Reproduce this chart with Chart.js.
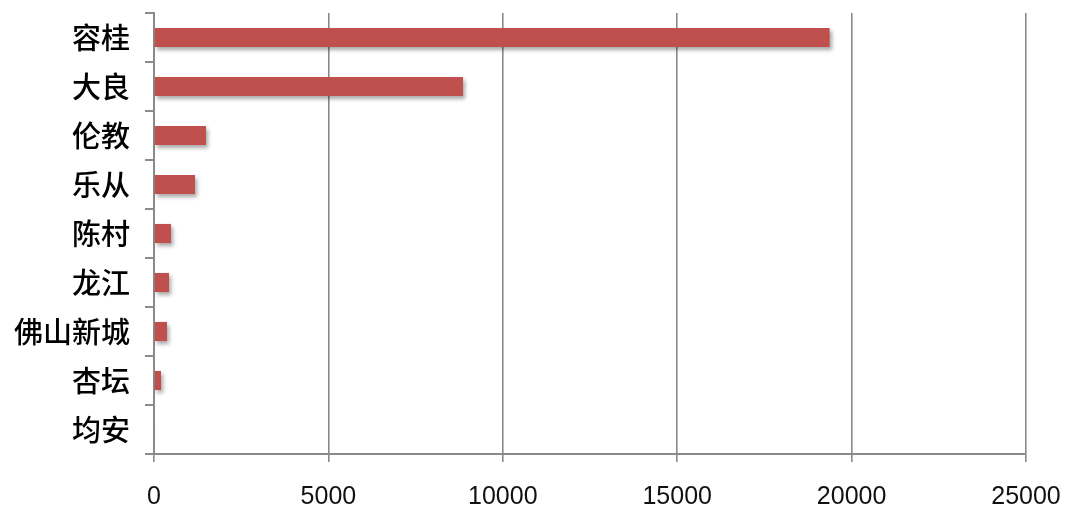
<!DOCTYPE html>
<html>
<head>
<meta charset="utf-8">
<script src="https://cdn.jsdelivr.net/npm/chart.js@4/dist/chart.umd.min.js"></script>
<style>
  html, body { margin: 0; padding: 0; background: #fff; }
  #wrap { width: 1065px; height: 508px; }
</style>
</head>
<body>
<div id="wrap"><canvas id="myChart" width="1065" height="508"></canvas></div>
<script>
const categories = ["容桂", "大良", "伦教", "乐从", "陈村", "龙江", "佛山新城", "杏坛", "均安"];
const values = [19370, 8860, 1490, 1175, 487, 430, 372, 200, 20];
const xTicks = [0, 5000, 10000, 15000, 20000, 25000];

// soft drop shadow under the bars, like the office chart
const barShadow = {
  id: 'barShadow',
  beforeDatasetsDraw(chart) {
    const c = chart.ctx;
    c.save();
    c.shadowColor = 'rgba(0,0,0,0.35)';
    c.shadowBlur = 4;
    c.shadowOffsetX = 2;
    c.shadowOffsetY = 3;
  },
  afterDatasetsDraw(chart) {
    chart.ctx.restore();
  }
};

var ctx = document.getElementById('myChart').getContext('2d');
var myChart = new Chart(ctx, {
  type: 'bar',
  data: {
    labels: categories,
    datasets: [{
      data: values,
      backgroundColor: "#C0504D",
      borderWidth: 0,
      barPercentage: 0.78,
      categoryPercentage: 0.5
    }]
  },
  options: {
    indexAxis: 'y',
    responsive: false,
    animation: false,
    layout: { padding: { top: 13, right: 39, left: 0, bottom: 0 } },
    plugins: { legend: { display: false }, tooltip: { enabled: false } },
    scales: {
      x: {
        min: 0,
        max: 25000,
        afterBuildTicks: (axis) => { axis.ticks = xTicks.map(v => ({ value: v })); },
        afterFit: (axis) => { axis.height = 54; axis.paddingLeft = 0; axis.paddingRight = 0; },
        grid: { color: '#8a8a8a', lineWidth: 1.6, tickLength: 8, drawTicks: true },
        border: { display: true, color: '#8a8a8a', width: 2 },
        ticks: {
          color: '#111',
          padding: 20,
          callback: (v) => String(v),
          font: { family: '"Liberation Sans", sans-serif', size: 25 },
          maxRotation: 0
        }
      },
      y: {
        afterFit: (axis) => { axis.width = 154; axis.paddingTop = 0; axis.paddingBottom = 0; },
        grid: { display: true, drawOnChartArea: false, color: '#8a8a8a', lineWidth: 2, tickLength: 9, offset: true },
        border: { display: true, color: '#8a8a8a', width: 2 },
        ticks: {
          color: '#000',
          padding: 15,
          font: { family: '"Noto Sans CJK SC", sans-serif', size: 29, weight: '500' }
        }
      }
    }
  },
  plugins: [barShadow]
});
</script>
</body>
</html>
